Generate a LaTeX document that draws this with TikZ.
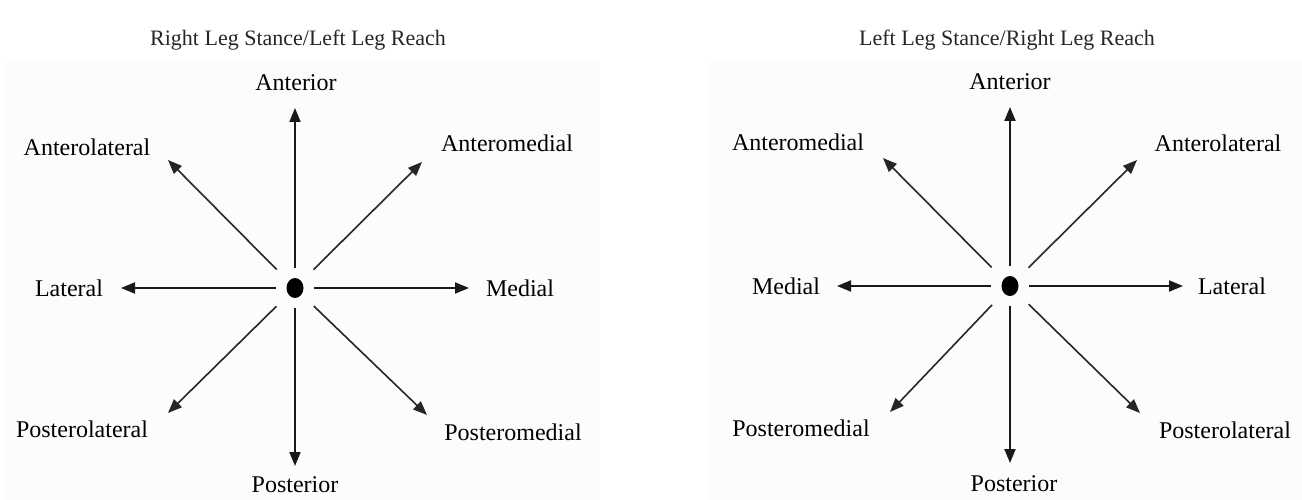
\documentclass[tikz,border=0pt]{standalone}
\usepackage{fontspec}
\usetikzlibrary{arrows.meta,shapes.geometric}
\newfontfamily\lblfont{Liberation Serif}
\begin{document}
\begin{tikzpicture}[x=1pt,y=-1pt,
  lbl/.style={font=\lblfont\fontsize{24}{28}\selectfont, inner sep=0pt},
  ttl/.style={font=\lblfont\fontsize{22}{26}\selectfont, inner sep=0pt, text=black!85},
  dotnode/.style={ellipse, fill=black, minimum width=17pt, minimum height=20pt, inner sep=0pt},
  axarr/.style={line width=2pt, draw=black!90, -{Triangle[length=14pt,width=11pt]}},
  diarr/.style={line width=1.6pt, draw=black!85, -{Triangle[length=14pt,width=11pt]}},
  panel/.style={fill=black!1, draw=none}
]
\useasboundingbox[fill=white] (0,0) rectangle (1302,500);
\fill[panel] (4,62) rectangle (600,500);
\fill[panel] (708,62) rectangle (1302,500);

% titles
\node[ttl] (t1) at (298,40) {Right Leg Stance/Left Leg Reach};
\node[ttl] (t2) at (1007,40) {Left Leg Stance/Right Leg Reach};

% ---------- left diagram ----------
\node[dotnode] (c1) at (295,288) {};
\coordinate (l-up) at (295,108);
\coordinate (l-dn) at (295,466);
\coordinate (l-lt) at (121,288);
\coordinate (l-rt) at (469,288);
\coordinate (l-ul) at (168,160);
\coordinate (l-ur) at (422,162);
\coordinate (l-ll) at (168,413);
\coordinate (l-lr) at (427,415);
\draw[axarr, shorten <=20pt] (c1.center) -- (l-up);
\draw[axarr, shorten <=20pt] (c1.center) -- (l-dn);
\draw[axarr, shorten <=19pt] (c1.center) -- (l-lt);
\draw[axarr, shorten <=19pt] (c1.center) -- (l-rt);
\draw[diarr, shorten <=26pt] (c1.center) -- (l-ul);
\draw[diarr, shorten <=26pt] (c1.center) -- (l-ur);
\draw[diarr, shorten <=26pt] (c1.center) -- (l-ll);
\draw[diarr, shorten <=26pt] (c1.center) -- (l-lr);
\node[lbl] (l-ant)  at (296,83)  {Anterior};
\node[lbl] (l-post) at (295,485) {Posterior};
\node[lbl] (l-lat)  at (69,288)  {Lateral};
\node[lbl] (l-med)  at (520,288) {Medial};
\node[lbl] (l-al)   at (87,147)  {Anterolateral};
\node[lbl] (l-am)   at (507,143) {Anteromedial};
\node[lbl] (l-pl)   at (82,429)  {Posterolateral};
\node[lbl] (l-pm)   at (513,432) {Posteromedial};

% ---------- right diagram ----------
\node[dotnode] (c2) at (1010,286) {};
\coordinate (r-up) at (1010,107);
\coordinate (r-dn) at (1010,463);
\coordinate (r-lt) at (837,286);
\coordinate (r-rt) at (1183,286);
\coordinate (r-ul) at (883,158);
\coordinate (r-ur) at (1137,160);
\coordinate (r-ll) at (890,412);
\coordinate (r-lr) at (1140,413);
\draw[axarr, shorten <=20pt] (c2.center) -- (r-up);
\draw[axarr, shorten <=20pt] (c2.center) -- (r-dn);
\draw[axarr, shorten <=19pt] (c2.center) -- (r-lt);
\draw[axarr, shorten <=19pt] (c2.center) -- (r-rt);
\draw[diarr, shorten <=26pt] (c2.center) -- (r-ul);
\draw[diarr, shorten <=26pt] (c2.center) -- (r-ur);
\draw[diarr, shorten <=26pt] (c2.center) -- (r-ll);
\draw[diarr, shorten <=26pt] (c2.center) -- (r-lr);
\node[lbl] (r-ant)  at (1010,82)  {Anterior};
\node[lbl] (r-post) at (1014,484) {Posterior};
\node[lbl] (r-med)  at (786,286)  {Medial};
\node[lbl] (r-lat)  at (1232,286) {Lateral};
\node[lbl] (r-am)   at (798,142)  {Anteromedial};
\node[lbl] (r-al)   at (1218,143) {Anterolateral};
\node[lbl] (r-pm)   at (801,428)  {Posteromedial};
\node[lbl] (r-pl)   at (1225,430) {Posterolateral};
\end{tikzpicture}
\end{document}
